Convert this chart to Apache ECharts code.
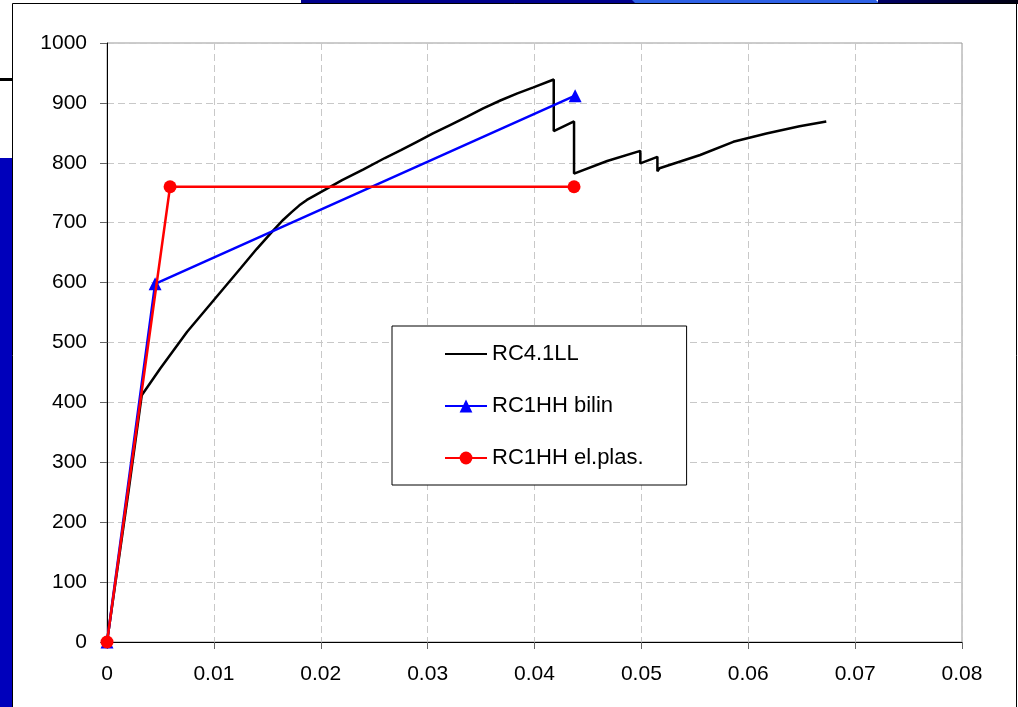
<!DOCTYPE html>
<html>
<head>
<meta charset="utf-8">
<script src="https://cdn.jsdelivr.net/npm/echarts@6/dist/echarts.min.js"></script>
<style>
  html, body { margin: 0; padding: 0; background: #ffffff; }
  #chart { width: 1018px; height: 707px; }
</style>
</head>
<body>
<div id="chart"></div>
<script>
// Force versus drift for the tested column and two idealisations
const seriesNames = ['RC4.1LL', 'RC1HH bilin', 'RC1HH el.plas.'];

// RC4.1LL measured curve
const testStrain = [0, 0.0010, 0.0020, 0.00325, 0.0050, 0.0075, 0.0100, 0.0125, 0.0140, 0.0155,
  0.0165, 0.0173, 0.0180, 0.0187, 0.0195, 0.0205, 0.0220, 0.0240, 0.0260, 0.0275, 0.0290,
  0.0305, 0.0321, 0.0337, 0.0352, 0.0368, 0.0384, 0.0399, 0.0418, 0.0418, 0.0437,
  0.0437, 0.0468, 0.0499, 0.0499, 0.0515, 0.0515, 0.0517, 0.0555, 0.0586, 0.0617, 0.0648, 0.0673];
const testForce = [0, 125, 250, 412, 457, 518, 571, 624, 656, 686,
  705, 718, 729, 738, 746, 756, 771, 789, 808, 821, 835,
  849, 863, 877, 891, 904, 916, 926, 939, 853, 869,
  782, 803, 820, 799, 810, 786, 791, 813, 835, 849, 861, 869];

// RC1HH bilinear idealisation
const bilinStrain = [0, 0.0045, 0.0438];
const bilinForce = [0, 598, 912];

// RC1HH elastic-plastic idealisation
const elplStrain = [0, 0.0059, 0.0437];
const elplForce = [0, 760, 760];

// Axis ticks
const xTicks = [0, 0.01, 0.02, 0.03, 0.04, 0.05, 0.06, 0.07, 0.08];
const yTicks = [0, 100, 200, 300, 400, 500, 600, 700, 800, 900, 1000];

const pairs = (xs, ys) => xs.map((x, i) => [x, ys[i]]);

const chart = echarts.init(document.getElementById('chart'), null, { renderer: 'canvas' });

const fontFamily = 'Liberation Sans, Arial, sans-serif';
const axisFont = { fontFamily: fontFamily, fontSize: 21, color: '#000' };

chart.setOption({
  animation: false,
  backgroundColor: '#ffffff',
  graphic: [
    // slide frame around the chart panel
    { type: 'rect', z: -10, shape: { x: 0, y: 0, width: 1018, height: 707 }, style: { fill: '#ffffff' } },
    { type: 'rect', z: -9, shape: { x: 0, y: 158, width: 12, height: 549 }, style: { fill: '#0000BB' } },
    { type: 'rect', z: -9, shape: { x: 0, y: 78, width: 12, height: 3 }, style: { fill: '#000000' } },
    { type: 'rect', z: -9, shape: { x: 301, y: 0, width: 335, height: 4 }, style: { fill: '#00008B' } },
    { type: 'polygon', z: -9, shape: { points: [[632, 0], [876, 0], [880, 4], [636, 4]] }, style: { fill: '#2F62E6' } },
    { type: 'rect', z: -9, shape: { x: 878, y: 0, width: 140, height: 4 },
      style: { fill: new echarts.graphic.LinearGradient(0, 0, 1, 0, [
        { offset: 0, color: '#000066' }, { offset: 1, color: '#000010' }]) } },
    { type: 'polyline', z: -8, shape: { points: [[12.5, 707], [12.5, 3.5], [1016.5, 3.5], [1016.5, 707]] },
      style: { stroke: '#000000', lineWidth: 1, fill: null } }
  ],
  grid: {
    left: 107, top: 43, right: 56, bottom: 65,
    show: true, borderColor: '#999999', borderWidth: 1, backgroundColor: '#ffffff'
  },
  legend: {
    orient: 'vertical',
    left: 392, top: 326,
    padding: [16, 43, 15, 52],
    backgroundColor: '#ffffff',
    borderColor: '#000000', borderWidth: 1,
    itemWidth: 42, itemHeight: 16, itemGap: 28,
    textStyle: { fontFamily: fontFamily, fontSize: 22, color: '#000', lineHeight: 24 },
    data: [
      { name: seriesNames[0], itemStyle: { opacity: 0 } },
      { name: seriesNames[1] },
      { name: seriesNames[2] }
    ]
  },
  xAxis: {
    type: 'value', min: xTicks[0], max: xTicks[xTicks.length - 1], interval: 0.01,
    axisLine: { show: true, onZero: false, lineStyle: { color: '#000', width: 1 } },
    axisTick: { show: true, inside: false, length: 7, lineStyle: { color: '#666' } },
    axisLabel: Object.assign({ margin: 22, formatter: v => String(+v.toFixed(2)) }, axisFont),
    splitLine: { show: true, lineStyle: { color: '#c8c8c8', type: [7, 4], width: 1 } }
  },
  yAxis: {
    type: 'value', min: yTicks[0], max: yTicks[yTicks.length - 1], interval: 100,
    axisLine: { show: true, onZero: false, lineStyle: { color: '#000', width: 1 } },
    axisTick: { show: true, inside: false, length: 7, lineStyle: { color: '#666' } },
    axisLabel: Object.assign({ margin: 20, formatter: v => String(v) }, axisFont),
    splitLine: { show: true, lineStyle: { color: '#c8c8c8', type: [7, 4], width: 1 } }
  },
  series: [
    {
      name: seriesNames[0], type: 'line', data: pairs(testStrain, testForce),
      symbol: 'none', color: '#000000', lineStyle: { color: '#000000', width: 2.5 }, z: 2
    },
    {
      name: seriesNames[1], type: 'line', data: pairs(bilinStrain, bilinForce),
      symbol: 'triangle', symbolSize: 13, color: '#0000FF',
      itemStyle: { color: '#0000FF' }, lineStyle: { color: '#0000FF', width: 2.5 }, z: 3
    },
    {
      name: seriesNames[2], type: 'line', data: pairs(elplStrain, elplForce),
      symbol: 'circle', symbolSize: 13, color: '#FF0000',
      itemStyle: { color: '#FF0000' }, lineStyle: { color: '#FF0000', width: 2.5 }, z: 4
    }
  ]
});
</script>
</body>
</html>
